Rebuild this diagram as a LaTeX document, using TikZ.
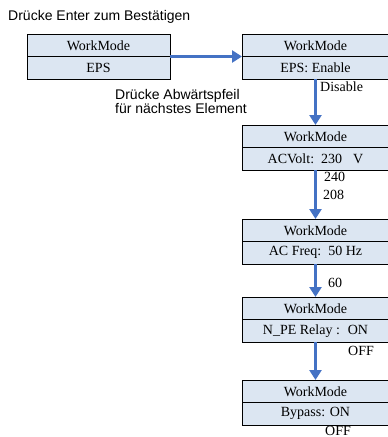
\documentclass[tikz,border=0pt]{standalone}
\usepackage{fontspec}
\setmainfont{Liberation Serif}
\setsansfont{Liberation Sans}
\usetikzlibrary{positioning,arrows.meta}
\definecolor{menufill}{HTML}{DCE6F2}
\definecolor{keyblue}{HTML}{4472C4}
\tikzset{
  menuhalf/.style={draw, fill=menufill, line width=0.8pt, minimum width=147pt,
    minimum height=22.5pt, inner sep=0pt, outer sep=0pt,
    font=\fontsize{14}{16}\selectfont},
  hint/.style={font=\sffamily\fontsize{14}{14}\selectfont, inner sep=0pt},
  option/.style={font=\fontsize{14}{16}\selectfont, inner sep=0pt, anchor=west},
  keyarrow/.style={keyblue, line width=2.5pt, -{Triangle[length=10pt,width=12pt]}}
}

\begin{document}
\begin{tikzpicture}[x=1pt,y=-1pt]
  \useasboundingbox (0,0) rectangle (388,437);
  % key hints
  \node[hint, anchor=west] (enter) at (8,17) {Drücke Enter zum Bestätigen};
  \node[hint, anchor=west, align=left] (down) at (115,101)
    {Drücke Abwärtspfeil\\für nächstes Element};
  % first level
  \node[menuhalf, minimum width=143pt, anchor=north west] (mode) at (27,34) {WorkMode};
  \node[menuhalf, minimum width=143pt, below=0pt of mode] (modeval) {EPS};
  % settings, one below the other
  \node[menuhalf, anchor=north west] (eps) at (242,34) {WorkMode};
  \node[menuhalf, below=0pt of eps] (epsval) {EPS: Enable};
  \node[menuhalf, anchor=north west] (volt) at (242,125) {WorkMode};
  \node[menuhalf, below=0pt of volt] (voltval) {ACVolt:\hspace{7pt}230\hspace{11pt}V};
  \node[menuhalf, anchor=north west] (freq) at (242,219) {WorkMode};
  \node[menuhalf, below=0pt of freq] (freqval) {AC Freq:\hspace{7pt}50 Hz};
  \node[menuhalf, anchor=north west] (relay) at (242,297) {WorkMode};
  \node[menuhalf, below=0pt of relay] (relayval) {N\_PE Relay :\hspace{8pt}ON};
  \node[menuhalf, anchor=north west] (bypass) at (242,380) {WorkMode};
  \node[menuhalf, below=0pt of bypass] (bypassval) {Bypass: ON};
  % other values of each setting
  \node[option] (disable) at (320,87) {Disable};
  \node[option] (v240) at (324,177) {240};
  \node[option] (v208) at (323,195) {208};
  \node[option] (f60) at (328,283) {60};
  \node[option] (relayoff) at (348,351) {OFF};
  \node[option] (bypassoff) at (325,431) {OFF};
  % arrows
  \draw[keyarrow] (modeval.north east) -- (modeval.north east -| eps.west);
  \draw[keyarrow] (epsval.south) -- (volt.north);
  \draw[keyarrow] (voltval.south) -- (freq.north);
  \draw[keyarrow] (freqval.south) -- (relay.north);
  \draw[keyarrow] (relayval.south) -- (bypass.north);
\end{tikzpicture}
\end{document}
